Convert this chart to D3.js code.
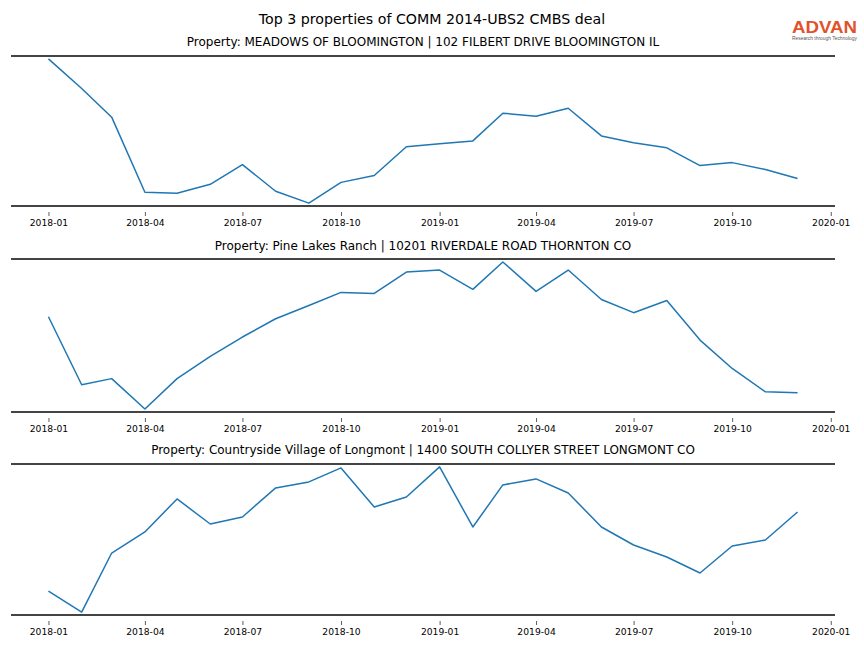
<!DOCTYPE html>
<html>
<head>
<meta charset="utf-8">
<script src="https://cdn.jsdelivr.net/npm/d3@7"></script>
<style>
  html, body { margin: 0; padding: 0; background: #fff; }
  svg { display: block; font-family: "DejaVu Sans", sans-serif; }
</style>
</head>
<body>
<svg id="chart" width="864" height="648"></svg>
<script>
// ---- data ----
const chartTitle = "Top 3 properties of COMM 2014-UBS2 CMBS deal";
const months = ["2018-01","2018-02","2018-03","2018-04","2018-05","2018-06","2018-07","2018-08","2018-09","2018-10","2018-11","2018-12",
                "2019-01","2019-02","2019-03","2019-04","2019-05","2019-06","2019-07","2019-08","2019-09","2019-10","2019-11","2019-12"];
const tickLabels = ["2018-01","2018-04","2018-07","2018-10","2019-01","2019-04","2019-07","2019-10","2020-01"];
const propertyTitles = [
  "Property: MEADOWS OF BLOOMINGTON | 102 FILBERT DRIVE BLOOMINGTON IL",
  "Property: Pine Lakes Ranch | 10201 RIVERDALE ROAD THORNTON CO",
  "Property: Countryside Village of Longmont | 1400 SOUTH COLLYER STREET LONGMONT CO"
];
const meadowsValues = [148, 118, 89, 13, 12, 21, 41, 14, 2, 23, 30, 59, 62, 65, 93, 90, 98, 70, 63, 58, 40, 43, 36, 27];
const pineLakesValues = [95, 28, 34, 4, 34, 56, 75, 93, 106, 119, 118, 139, 141, 122, 149, 120, 141, 112, 99, 111, 72, 44, 21, 20];
const countrysideValues = [24, 3, 62, 83, 116, 91, 98, 127, 133, 147, 108, 118, 148, 88, 130, 136, 122, 88, 70, 58, 42, 69, 75, 103];
const seriesList = [meadowsValues, pineLakesValues, countrysideValues];

// ---- layout ----
const svg = d3.select("#chart");
const W = 864;
const axLeft = 11, axRight = 835;
const panels = [
  { top: 56, bottom: 206, titleY: 46 },
  { top: 259, bottom: 412, titleY: 250 },
  { top: 464, bottom: 615, titleY: 454 }
];
const parse = d3.timeParse("%Y-%m");
const dates = months.map(parse);
const tickDates = tickLabels.map(parse);

// matplotlib-like 5% x margins
const [d0, d1] = d3.extent(dates);
const span = d1 - d0;
const x = d3.scaleTime()
  .domain([new Date(+d0 - span * 0.05), new Date(+d1 + span * 0.05)])
  .range([axLeft, axRight]);

svg.append("text")
  .attr("x", W / 2).attr("y", 24)
  .attr("text-anchor", "middle")
  .attr("font-size", 14.2)
  .attr("fill", "#000")
  .text(chartTitle);

// logo
const logo = svg.append("g");
logo.append("text")
  .attr("x", 792).attr("y", 32.5)
  .attr("font-family", "Liberation Sans, Arial, sans-serif")
  .attr("font-size", 17)
  .attr("font-weight", "bold")
  .attr("fill", "#e1522b")
  .attr("textLength", 65)
  .attr("lengthAdjust", "spacingAndGlyphs")
  .text("ADVAN");
logo.append("text")
  .attr("x", 792).attr("y", 40.4)
  .attr("font-family", "Liberation Sans, Arial, sans-serif")
  .attr("font-size", 4.5)
  .attr("fill", "#555")
  .attr("textLength", 65)
  .attr("lengthAdjust", "spacingAndGlyphs")
  .text("Research through Technology");

panels.forEach((p, i) => {
  const vals = seriesList[i];
  const [mn, mx] = d3.extent(vals);
  const pad = (mx - mn) * 0.02;
  const y = d3.scaleLinear().domain([mn - pad, mx + pad]).range([p.bottom, p.top]);
  const g = svg.append("g");

  g.append("text")
    .attr("x", (axLeft + axRight) / 2).attr("y", p.titleY)
    .attr("text-anchor", "middle")
    .attr("font-size", 12)
    .attr("fill", "#000")
    .text(propertyTitles[i]);

  // spines
  [p.top, p.bottom].forEach(yy => {
    g.append("line")
      .attr("x1", axLeft).attr("x2", axRight)
      .attr("y1", yy).attr("y2", yy)
      .attr("stroke", "#444").attr("stroke-width", 2);
  });

  // x axis
  const axis = d3.axisBottom(x)
    .tickValues(tickDates)
    .tickFormat(d3.timeFormat("%Y-%m"))
    .tickSize(4)
    .tickPadding(3);
  const ag = g.append("g")
    .attr("transform", `translate(0,${p.bottom + 6})`)
    .call(axis);
  ag.select(".domain").remove();
  ag.selectAll(".tick line").attr("stroke", "#333").attr("stroke-width", 0.8);
  ag.selectAll(".tick text")
    .attr("font-family", "DejaVu Sans, sans-serif")
    .attr("font-size", 9.2)
    .attr("fill", "#000");

  const line = d3.line()
    .x((d, j) => x(dates[j]))
    .y(d => y(d));
  g.append("path")
    .datum(vals)
    .attr("d", line)
    .attr("fill", "none")
    .attr("stroke", "#1f77b4")
    .attr("stroke-width", 1.5)
    .attr("stroke-linejoin", "round");
});
</script>
</body>
</html>
